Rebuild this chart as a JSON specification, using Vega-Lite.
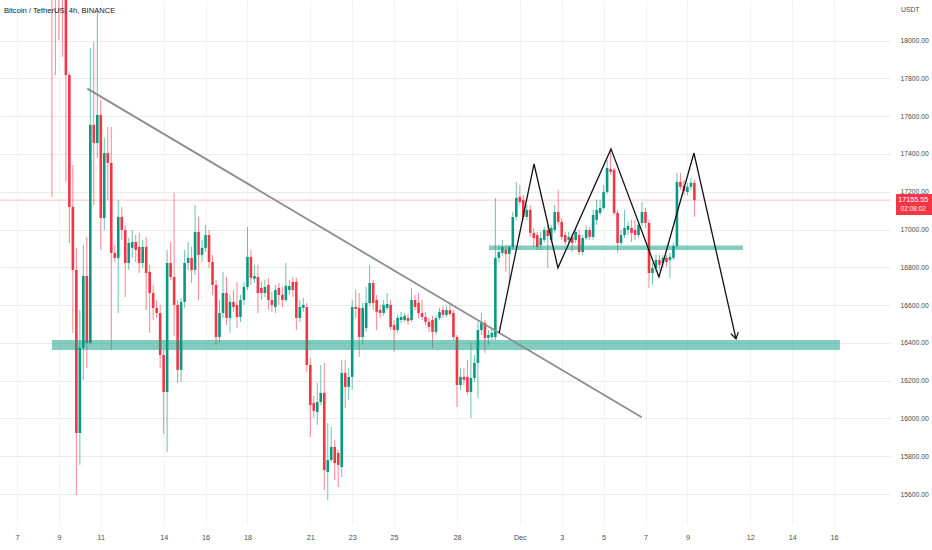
{
  "$schema": "https://vega.github.io/schema/vega-lite/v6.json",
  "width": 890,
  "height": 525,
  "autosize": "none",
  "padding": {"left": 0, "top": 0, "right": 42, "bottom": 25},
  "background": "white",
  "config": {
    "view": {"stroke": null},
    "font": "Liberation Sans Narrow, Liberation Sans, sans-serif"
  },
  "datasets": {
    "candles": [
      {"t": "2022-11-08T16:00", "o": 19500, "h": 19700, "l": 17173, "c": 18600},
      {"t": "2022-11-08T20:00", "o": 18600, "h": 19200, "l": 17818, "c": 18900},
      {"t": "2022-11-09T00:00", "o": 18900, "h": 19000, "l": 18004, "c": 18500},
      {"t": "2022-11-09T04:00", "o": 18500, "h": 18600, "l": 17914, "c": 18300},
      {"t": "2022-11-09T08:00", "o": 18300, "h": 18400, "l": 17252, "c": 17818},
      {"t": "2022-11-09T12:00", "o": 17818, "h": 17830, "l": 16928, "c": 17119},
      {"t": "2022-11-09T16:00", "o": 17120, "h": 17342, "l": 16453, "c": 16786},
      {"t": "2022-11-09T20:00", "o": 16786, "h": 16903, "l": 15595, "c": 15923},
      {"t": "2022-11-10T00:00", "o": 15923, "h": 16574, "l": 15754, "c": 16373},
      {"t": "2022-11-10T04:00", "o": 16373, "h": 16918, "l": 16204, "c": 16754},
      {"t": "2022-11-10T08:00", "o": 16754, "h": 16961, "l": 16267, "c": 16400},
      {"t": "2022-11-10T12:00", "o": 16400, "h": 17961, "l": 16389, "c": 17554},
      {"t": "2022-11-10T16:00", "o": 17554, "h": 17993, "l": 17130, "c": 17458},
      {"t": "2022-11-10T20:00", "o": 17458, "h": 18152, "l": 17379, "c": 17607},
      {"t": "2022-11-11T00:00", "o": 17607, "h": 17686, "l": 16892, "c": 17061},
      {"t": "2022-11-11T04:00", "o": 17061, "h": 17485, "l": 16998, "c": 17405},
      {"t": "2022-11-11T08:00", "o": 17405, "h": 17543, "l": 17157, "c": 17353},
      {"t": "2022-11-11T12:00", "o": 17353, "h": 17543, "l": 16363, "c": 16876},
      {"t": "2022-11-11T16:00", "o": 16876, "h": 16918, "l": 16828, "c": 16850},
      {"t": "2022-11-11T20:00", "o": 16850, "h": 17157, "l": 16558, "c": 17067},
      {"t": "2022-11-12T00:00", "o": 17067, "h": 17120, "l": 16945, "c": 16998},
      {"t": "2022-11-12T04:00", "o": 16998, "h": 17024, "l": 16643, "c": 16823},
      {"t": "2022-11-12T08:00", "o": 16823, "h": 16955, "l": 16786, "c": 16929},
      {"t": "2022-11-12T12:00", "o": 16903, "h": 16998, "l": 16850, "c": 16934},
      {"t": "2022-11-12T16:00", "o": 16934, "h": 16971, "l": 16828, "c": 16892},
      {"t": "2022-11-12T20:00", "o": 16908, "h": 16982, "l": 16770, "c": 16823},
      {"t": "2022-11-13T00:00", "o": 16823, "h": 16945, "l": 16797, "c": 16908},
      {"t": "2022-11-13T04:00", "o": 16908, "h": 16961, "l": 16574, "c": 16770},
      {"t": "2022-11-13T08:00", "o": 16776, "h": 16813, "l": 16453, "c": 16664},
      {"t": "2022-11-13T12:00", "o": 16664, "h": 16707, "l": 16521, "c": 16585},
      {"t": "2022-11-13T16:00", "o": 16585, "h": 16627, "l": 16532, "c": 16558},
      {"t": "2022-11-13T20:00", "o": 16558, "h": 16601, "l": 16267, "c": 16336},
      {"t": "2022-11-14T00:00", "o": 16336, "h": 16363, "l": 15918, "c": 16140},
      {"t": "2022-11-14T04:00", "o": 16140, "h": 16892, "l": 15823, "c": 16823},
      {"t": "2022-11-14T08:00", "o": 16823, "h": 16934, "l": 16733, "c": 16749},
      {"t": "2022-11-14T12:00", "o": 16749, "h": 17194, "l": 16437, "c": 16601},
      {"t": "2022-11-14T16:00", "o": 16601, "h": 16627, "l": 16188, "c": 16257},
      {"t": "2022-11-14T20:00", "o": 16257, "h": 16638, "l": 16193, "c": 16617},
      {"t": "2022-11-15T00:00", "o": 16617, "h": 16892, "l": 16585, "c": 16823},
      {"t": "2022-11-15T04:00", "o": 16823, "h": 16934, "l": 16786, "c": 16850},
      {"t": "2022-11-15T08:00", "o": 16850, "h": 16908, "l": 16717, "c": 16786},
      {"t": "2022-11-15T12:00", "o": 16786, "h": 17130, "l": 16760, "c": 16987},
      {"t": "2022-11-15T16:00", "o": 16987, "h": 17067, "l": 16627, "c": 16866},
      {"t": "2022-11-15T20:00", "o": 16866, "h": 16945, "l": 16828, "c": 16903},
      {"t": "2022-11-16T00:00", "o": 16903, "h": 17024, "l": 16881, "c": 16971},
      {"t": "2022-11-16T04:00", "o": 16971, "h": 16998, "l": 16797, "c": 16828},
      {"t": "2022-11-16T08:00", "o": 16828, "h": 16866, "l": 16654, "c": 16707},
      {"t": "2022-11-16T12:00", "o": 16707, "h": 16733, "l": 16389, "c": 16431},
      {"t": "2022-11-16T16:00", "o": 16431, "h": 16627, "l": 16400, "c": 16558},
      {"t": "2022-11-16T20:00", "o": 16558, "h": 16776, "l": 16532, "c": 16664},
      {"t": "2022-11-17T00:00", "o": 16664, "h": 16749, "l": 16495, "c": 16532},
      {"t": "2022-11-17T04:00", "o": 16532, "h": 16654, "l": 16453, "c": 16617},
      {"t": "2022-11-17T08:00", "o": 16617, "h": 16680, "l": 16564, "c": 16590},
      {"t": "2022-11-17T12:00", "o": 16601, "h": 16723, "l": 16479, "c": 16537},
      {"t": "2022-11-17T16:00", "o": 16537, "h": 16654, "l": 16511, "c": 16627},
      {"t": "2022-11-17T20:00", "o": 16627, "h": 16723, "l": 16601, "c": 16696},
      {"t": "2022-11-18T00:00", "o": 16696, "h": 17014, "l": 16680, "c": 16855},
      {"t": "2022-11-18T04:00", "o": 16855, "h": 16892, "l": 16707, "c": 16744},
      {"t": "2022-11-18T08:00", "o": 16739, "h": 16813, "l": 16717, "c": 16754},
      {"t": "2022-11-18T12:00", "o": 16749, "h": 16813, "l": 16558, "c": 16664},
      {"t": "2022-11-18T16:00", "o": 16691, "h": 16723, "l": 16627, "c": 16664},
      {"t": "2022-11-18T20:00", "o": 16664, "h": 16733, "l": 16643, "c": 16696},
      {"t": "2022-11-19T00:00", "o": 16707, "h": 16744, "l": 16574, "c": 16627},
      {"t": "2022-11-19T04:00", "o": 16627, "h": 16670, "l": 16564, "c": 16601},
      {"t": "2022-11-19T08:00", "o": 16590, "h": 16707, "l": 16558, "c": 16680},
      {"t": "2022-11-19T12:00", "o": 16691, "h": 16717, "l": 16601, "c": 16654},
      {"t": "2022-11-19T16:00", "o": 16654, "h": 16696, "l": 16590, "c": 16627},
      {"t": "2022-11-19T20:00", "o": 16627, "h": 16823, "l": 16617, "c": 16701},
      {"t": "2022-11-20T00:00", "o": 16680, "h": 16733, "l": 16654, "c": 16701},
      {"t": "2022-11-20T04:00", "o": 16723, "h": 16749, "l": 16643, "c": 16680},
      {"t": "2022-11-20T08:00", "o": 16723, "h": 16744, "l": 16468, "c": 16532},
      {"t": "2022-11-20T12:00", "o": 16532, "h": 16627, "l": 16511, "c": 16590},
      {"t": "2022-11-20T16:00", "o": 16585, "h": 16638, "l": 16564, "c": 16601},
      {"t": "2022-11-20T20:00", "o": 16590, "h": 16611, "l": 16246, "c": 16283},
      {"t": "2022-11-21T00:00", "o": 16283, "h": 16320, "l": 15902, "c": 16071},
      {"t": "2022-11-21T04:00", "o": 16082, "h": 16119, "l": 16003, "c": 16040},
      {"t": "2022-11-21T08:00", "o": 16034, "h": 16188, "l": 15966, "c": 16087},
      {"t": "2022-11-21T12:00", "o": 16087, "h": 16283, "l": 16071, "c": 16135},
      {"t": "2022-11-21T16:00", "o": 16135, "h": 16294, "l": 15621, "c": 15727},
      {"t": "2022-11-21T20:00", "o": 15717, "h": 15976, "l": 15568, "c": 15780},
      {"t": "2022-11-22T00:00", "o": 15780, "h": 15955, "l": 15770, "c": 15849},
      {"t": "2022-11-22T04:00", "o": 15849, "h": 15886, "l": 15674, "c": 15764},
      {"t": "2022-11-22T08:00", "o": 15817, "h": 15833, "l": 15637, "c": 15754},
      {"t": "2022-11-22T12:00", "o": 15743, "h": 16310, "l": 15690, "c": 16241},
      {"t": "2022-11-22T16:00", "o": 16241, "h": 16310, "l": 16055, "c": 16167},
      {"t": "2022-11-22T20:00", "o": 16167, "h": 16267, "l": 16098, "c": 16220},
      {"t": "2022-11-23T00:00", "o": 16220, "h": 16627, "l": 16151, "c": 16590},
      {"t": "2022-11-23T04:00", "o": 16590, "h": 16680, "l": 16532, "c": 16580},
      {"t": "2022-11-23T08:00", "o": 16585, "h": 16664, "l": 16326, "c": 16431},
      {"t": "2022-11-23T12:00", "o": 16431, "h": 16611, "l": 16389, "c": 16585},
      {"t": "2022-11-23T16:00", "o": 16479, "h": 16696, "l": 16458, "c": 16611},
      {"t": "2022-11-23T20:00", "o": 16611, "h": 16813, "l": 16596, "c": 16717},
      {"t": "2022-11-24T00:00", "o": 16717, "h": 16733, "l": 16574, "c": 16611},
      {"t": "2022-11-24T04:00", "o": 16627, "h": 16654, "l": 16468, "c": 16564},
      {"t": "2022-11-24T08:00", "o": 16574, "h": 16601, "l": 16532, "c": 16558},
      {"t": "2022-11-24T12:00", "o": 16558, "h": 16627, "l": 16543, "c": 16601},
      {"t": "2022-11-24T16:00", "o": 16585, "h": 16664, "l": 16574, "c": 16606},
      {"t": "2022-11-24T20:00", "o": 16601, "h": 16627, "l": 16468, "c": 16484},
      {"t": "2022-11-25T00:00", "o": 16495, "h": 16521, "l": 16352, "c": 16468},
      {"t": "2022-11-25T04:00", "o": 16468, "h": 16548, "l": 16453, "c": 16532},
      {"t": "2022-11-25T08:00", "o": 16521, "h": 16564, "l": 16506, "c": 16537},
      {"t": "2022-11-25T12:00", "o": 16521, "h": 16558, "l": 16511, "c": 16543},
      {"t": "2022-11-25T16:00", "o": 16532, "h": 16553, "l": 16495, "c": 16516},
      {"t": "2022-11-25T20:00", "o": 16521, "h": 16691, "l": 16511, "c": 16627},
      {"t": "2022-11-26T00:00", "o": 16627, "h": 16654, "l": 16574, "c": 16590},
      {"t": "2022-11-26T04:00", "o": 16611, "h": 16664, "l": 16532, "c": 16558},
      {"t": "2022-11-26T08:00", "o": 16558, "h": 16627, "l": 16521, "c": 16537},
      {"t": "2022-11-26T12:00", "o": 16537, "h": 16564, "l": 16495, "c": 16511},
      {"t": "2022-11-26T16:00", "o": 16511, "h": 16532, "l": 16458, "c": 16484},
      {"t": "2022-11-26T20:00", "o": 16521, "h": 16543, "l": 16373, "c": 16458},
      {"t": "2022-11-27T00:00", "o": 16458, "h": 16548, "l": 16442, "c": 16532},
      {"t": "2022-11-27T04:00", "o": 16532, "h": 16585, "l": 16521, "c": 16564},
      {"t": "2022-11-27T08:00", "o": 16574, "h": 16596, "l": 16532, "c": 16548},
      {"t": "2022-11-27T12:00", "o": 16548, "h": 16596, "l": 16537, "c": 16574},
      {"t": "2022-11-27T16:00", "o": 16574, "h": 16601, "l": 16543, "c": 16553},
      {"t": "2022-11-27T20:00", "o": 16558, "h": 16574, "l": 16415, "c": 16431},
      {"t": "2022-11-28T00:00", "o": 16431, "h": 16442, "l": 16061, "c": 16177},
      {"t": "2022-11-28T04:00", "o": 16177, "h": 16267, "l": 16151, "c": 16220},
      {"t": "2022-11-28T08:00", "o": 16220, "h": 16267, "l": 16177, "c": 16204},
      {"t": "2022-11-28T12:00", "o": 16220, "h": 16310, "l": 16124, "c": 16140},
      {"t": "2022-11-28T16:00", "o": 16140, "h": 16400, "l": 16003, "c": 16214},
      {"t": "2022-11-28T20:00", "o": 16214, "h": 16336, "l": 16193, "c": 16294},
      {"t": "2022-11-29T00:00", "o": 16294, "h": 16511, "l": 16108, "c": 16468},
      {"t": "2022-11-29T04:00", "o": 16468, "h": 16558, "l": 16442, "c": 16506},
      {"t": "2022-11-29T08:00", "o": 16506, "h": 16521, "l": 16347, "c": 16426},
      {"t": "2022-11-29T12:00", "o": 16426, "h": 16468, "l": 16389, "c": 16442},
      {"t": "2022-11-29T16:00", "o": 16431, "h": 16479, "l": 16415, "c": 16453},
      {"t": "2022-11-29T20:00", "o": 16431, "h": 17167, "l": 16415, "c": 16850},
      {"t": "2022-11-30T00:00", "o": 16850, "h": 16918, "l": 16828, "c": 16881},
      {"t": "2022-11-30T04:00", "o": 16876, "h": 16945, "l": 16860, "c": 16908},
      {"t": "2022-11-30T08:00", "o": 16892, "h": 16918, "l": 16776, "c": 16871},
      {"t": "2022-11-30T12:00", "o": 16871, "h": 16918, "l": 16717, "c": 16908},
      {"t": "2022-11-30T16:00", "o": 16908, "h": 17093, "l": 16892, "c": 17067},
      {"t": "2022-11-30T20:00", "o": 17067, "h": 17252, "l": 17051, "c": 17167},
      {"t": "2022-12-01T00:00", "o": 17173, "h": 17236, "l": 17130, "c": 17146},
      {"t": "2022-12-01T04:00", "o": 17157, "h": 17183, "l": 17051, "c": 17067},
      {"t": "2022-12-01T08:00", "o": 17067, "h": 17130, "l": 17051, "c": 17104},
      {"t": "2022-12-01T12:00", "o": 17104, "h": 17130, "l": 16961, "c": 16982},
      {"t": "2022-12-01T16:00", "o": 16982, "h": 17008, "l": 16908, "c": 16955},
      {"t": "2022-12-01T20:00", "o": 16971, "h": 16987, "l": 16892, "c": 16908},
      {"t": "2022-12-02T00:00", "o": 16918, "h": 16987, "l": 16892, "c": 16955},
      {"t": "2022-12-02T04:00", "o": 16945, "h": 17014, "l": 16929, "c": 16998},
      {"t": "2022-12-02T08:00", "o": 16998, "h": 17024, "l": 16797, "c": 16966},
      {"t": "2022-12-02T12:00", "o": 16945, "h": 17024, "l": 16929, "c": 17008},
      {"t": "2022-12-02T16:00", "o": 16998, "h": 17130, "l": 16982, "c": 17093},
      {"t": "2022-12-02T20:00", "o": 17093, "h": 17210, "l": 17024, "c": 17040},
      {"t": "2022-12-03T00:00", "o": 17040, "h": 17061, "l": 16945, "c": 16961},
      {"t": "2022-12-03T04:00", "o": 16971, "h": 16987, "l": 16918, "c": 16934},
      {"t": "2022-12-03T08:00", "o": 16945, "h": 16987, "l": 16929, "c": 16961},
      {"t": "2022-12-03T12:00", "o": 16961, "h": 16982, "l": 16881, "c": 16929},
      {"t": "2022-12-03T16:00", "o": 16945, "h": 17008, "l": 16929, "c": 16987},
      {"t": "2022-12-03T20:00", "o": 16971, "h": 16998, "l": 16866, "c": 16881},
      {"t": "2022-12-04T00:00", "o": 16881, "h": 16971, "l": 16866, "c": 16955},
      {"t": "2022-12-04T04:00", "o": 16955, "h": 17024, "l": 16945, "c": 16998},
      {"t": "2022-12-04T08:00", "o": 16998, "h": 17014, "l": 16945, "c": 16961},
      {"t": "2022-12-04T12:00", "o": 16961, "h": 17104, "l": 16945, "c": 17077},
      {"t": "2022-12-04T16:00", "o": 17051, "h": 17157, "l": 17024, "c": 17104},
      {"t": "2022-12-04T20:00", "o": 17088, "h": 17157, "l": 17077, "c": 17114},
      {"t": "2022-12-05T00:00", "o": 17114, "h": 17236, "l": 17104, "c": 17199},
      {"t": "2022-12-05T04:00", "o": 17199, "h": 17368, "l": 17188, "c": 17326},
      {"t": "2022-12-05T08:00", "o": 17321, "h": 17427, "l": 17289, "c": 17305},
      {"t": "2022-12-05T12:00", "o": 17316, "h": 17326, "l": 17077, "c": 17088},
      {"t": "2022-12-05T16:00", "o": 17088, "h": 17104, "l": 16876, "c": 16929},
      {"t": "2022-12-05T20:00", "o": 16929, "h": 16998, "l": 16918, "c": 16971},
      {"t": "2022-12-06T00:00", "o": 16971, "h": 17104, "l": 16955, "c": 17008},
      {"t": "2022-12-06T04:00", "o": 16998, "h": 17040, "l": 16971, "c": 17019},
      {"t": "2022-12-06T08:00", "o": 17008, "h": 17051, "l": 16934, "c": 16982},
      {"t": "2022-12-06T12:00", "o": 16998, "h": 17051, "l": 16945, "c": 16971},
      {"t": "2022-12-06T16:00", "o": 16971, "h": 17040, "l": 16955, "c": 17024},
      {"t": "2022-12-06T20:00", "o": 17035, "h": 17146, "l": 17019, "c": 17093},
      {"t": "2022-12-07T00:00", "o": 17093, "h": 17114, "l": 17008, "c": 17035},
      {"t": "2022-12-07T04:00", "o": 17035, "h": 17051, "l": 16691, "c": 16770},
      {"t": "2022-12-07T08:00", "o": 16770, "h": 16823, "l": 16707, "c": 16797},
      {"t": "2022-12-07T12:00", "o": 16797, "h": 16866, "l": 16776, "c": 16839},
      {"t": "2022-12-07T16:00", "o": 16839, "h": 16866, "l": 16786, "c": 16813},
      {"t": "2022-12-07T20:00", "o": 16823, "h": 16866, "l": 16797, "c": 16850},
      {"t": "2022-12-08T00:00", "o": 16850, "h": 16866, "l": 16802, "c": 16828},
      {"t": "2022-12-08T04:00", "o": 16839, "h": 16876, "l": 16744, "c": 16855},
      {"t": "2022-12-08T08:00", "o": 16850, "h": 16929, "l": 16839, "c": 16913},
      {"t": "2022-12-08T12:00", "o": 16913, "h": 17300, "l": 16903, "c": 17252},
      {"t": "2022-12-08T16:00", "o": 17252, "h": 17300, "l": 17210, "c": 17226},
      {"t": "2022-12-08T20:00", "o": 17231, "h": 17263, "l": 17183, "c": 17204},
      {"t": "2022-12-09T00:00", "o": 17199, "h": 17247, "l": 17183, "c": 17226},
      {"t": "2022-12-09T04:00", "o": 17226, "h": 17273, "l": 17210, "c": 17247},
      {"t": "2022-12-09T08:00", "o": 17247, "h": 17263, "l": 17067, "c": 17155.55}
    ],
    "bands": [
      {"t1": "2022-11-08T16:06", "t2": "2022-12-16T06:45", "p1": 16415, "p2": 16362},
      {"t1": "2022-11-29T12:45", "t2": "2022-12-11T15:40", "p1": 16915, "p2": 16892}
    ],
    "trend": [
      {"t": "2022-11-10T08:32", "p": 17746},
      {"t": "2022-12-06T19:40", "p": 16006}
    ],
    "zigzag": [
      {"t": "2022-11-30T00:14", "p": 16452},
      {"t": "2022-12-01T16:18", "p": 17347},
      {"t": "2022-12-02T19:42", "p": 16797},
      {"t": "2022-12-05T08:28", "p": 17427},
      {"t": "2022-12-07T15:25", "p": 16749},
      {"t": "2022-12-09T07:30", "p": 17405},
      {"t": "2022-12-11T07:40", "p": 16421}
    ]
  },
  "layer": [
    {
      "data": {"values": [{}]},
      "mark": {"type": "rule", "color": "#f23645", "opacity": 0.3, "strokeWidth": 1},
      "encoding": {
        "y": {"datum": 17155.55, "type": "quantitative", "scale": {"domain": [15436, 18215], "nice": false, "zero": false}, "title": null}
      }
    },
    {
      "data": {"name": "candles"},
      "mark": {"type": "rule", "strokeWidth": 1, "opacity": 0.6, "clip": true},
      "encoding": {
        "x": {
          "field": "t", "type": "temporal", "title": null,
          "scale": {"domain": [{"year": 2022, "month": 11, "date": 6, "hours": 4, "minutes": 32}, {"year": 2022, "month": 12, "date": 18, "hours": 16, "minutes": 5}], "padding": 0},
          "axis": {
            "values": [
              {"year": 2022, "month": 11, "date": 7}, {"year": 2022, "month": 11, "date": 9},
              {"year": 2022, "month": 11, "date": 11}, {"year": 2022, "month": 11, "date": 14},
              {"year": 2022, "month": 11, "date": 16}, {"year": 2022, "month": 11, "date": 18},
              {"year": 2022, "month": 11, "date": 21}, {"year": 2022, "month": 11, "date": 23},
              {"year": 2022, "month": 11, "date": 25}, {"year": 2022, "month": 11, "date": 28},
              {"year": 2022, "month": 12, "date": 1}, {"year": 2022, "month": 12, "date": 3},
              {"year": 2022, "month": 12, "date": 5}, {"year": 2022, "month": 12, "date": 7},
              {"year": 2022, "month": 12, "date": 9}, {"year": 2022, "month": 12, "date": 12},
              {"year": 2022, "month": 12, "date": 14}, {"year": 2022, "month": 12, "date": 16}
            ],
            "labelExpr": "date(datum.value) == 1 ? 'Dec' : '' + date(datum.value)",
            "grid": true, "gridColor": "#f3f3f3", "ticks": false, "domain": false,
            "labelFontSize": 7.2, "labelColor": "#4a4a4a", "labelPadding": 8,
            "labelOverlap": false, "labelFlush": false
          }
        },
        "y": {
          "field": "l", "type": "quantitative", "title": null,
          "scale": {"domain": [15436, 18215], "nice": false, "zero": false},
          "axis": {
            "orient": "right",
            "values": [15600, 15800, 16000, 16200, 16400, 16600, 16800, 17000, 17200, 17400, 17600, 17800, 18000],
            "format": ".2f", "grid": true, "gridColor": "#ebebeb", "ticks": false, "domain": false,
            "labelAlign": "left", "labelBaseline": "middle", "labelPadding": 10,
            "labelFontSize": 6.8, "labelColor": "#4a4a4a"
          }
        },
        "y2": {"field": "h"},
        "color": {"condition": {"test": "datum.c >= datum.o", "value": "#089981"}, "value": "#f23645"}
      }
    },
    {
      "data": {"name": "candles"},
      "mark": {"type": "bar", "size": 2.6, "clip": true},
      "encoding": {
        "x": {"field": "t", "type": "temporal", "title": null, "scale": {"domain": [{"year": 2022, "month": 11, "date": 6, "hours": 4, "minutes": 32}, {"year": 2022, "month": 12, "date": 18, "hours": 16, "minutes": 5}], "padding": 0}},
        "y": {"field": "o", "type": "quantitative", "title": null, "scale": {"domain": [15436, 18215], "nice": false, "zero": false}},
        "y2": {"field": "c"},
        "color": {"condition": {"test": "datum.c >= datum.o", "value": "#089981"}, "value": "#f23645"}
      }
    },
    {
      "data": {"name": "bands"},
      "mark": {"type": "rect", "color": "#089981", "opacity": 0.5},
      "encoding": {
        "x": {"field": "t1", "type": "temporal", "title": null, "scale": {"domain": [{"year": 2022, "month": 11, "date": 6, "hours": 4, "minutes": 32}, {"year": 2022, "month": 12, "date": 18, "hours": 16, "minutes": 5}], "padding": 0}},
        "x2": {"field": "t2"},
        "y": {"field": "p1", "type": "quantitative", "title": null, "scale": {"domain": [15436, 18215], "nice": false, "zero": false}},
        "y2": {"field": "p2"}
      }
    },
    {
      "data": {"name": "trend"},
      "mark": {"type": "line", "color": "#8c8c8c", "strokeWidth": 1.8},
      "encoding": {
        "x": {"field": "t", "type": "temporal", "title": null, "scale": {"domain": [{"year": 2022, "month": 11, "date": 6, "hours": 4, "minutes": 32}, {"year": 2022, "month": 12, "date": 18, "hours": 16, "minutes": 5}], "padding": 0}},
        "y": {"field": "p", "type": "quantitative", "title": null, "scale": {"domain": [15436, 18215], "nice": false, "zero": false}}
      }
    },
    {
      "data": {"name": "zigzag"},
      "mark": {"type": "line", "color": "#111111", "strokeWidth": 1.3},
      "encoding": {
        "x": {"field": "t", "type": "temporal", "title": null, "scale": {"domain": [{"year": 2022, "month": 11, "date": 6, "hours": 4, "minutes": 32}, {"year": 2022, "month": 12, "date": 18, "hours": 16, "minutes": 5}], "padding": 0}},
        "y": {"field": "p", "type": "quantitative", "title": null, "scale": {"domain": [15436, 18215], "nice": false, "zero": false}}
      }
    },
    {
      "data": {"values": [{}]},
      "mark": {"type": "point", "shape": "M-0.62,-1L0,0L0.62,-1", "filled": false, "stroke": "#111111", "strokeWidth": 1.3, "size": 150, "angle": -12.8, "opacity": 1},
      "encoding": {
        "x": {"datum": {"year": 2022, "month": 12, "date": 11, "hours": 7, "minutes": 40}, "type": "temporal", "title": null, "scale": {"domain": [{"year": 2022, "month": 11, "date": 6, "hours": 4, "minutes": 32}, {"year": 2022, "month": 12, "date": 18, "hours": 16, "minutes": 5}], "padding": 0}},
        "y": {"datum": 16421, "type": "quantitative", "title": null, "scale": {"domain": [15436, 18215], "nice": false, "zero": false}}
      }
    },
    {
      "data": {"values": [{}]},
      "mark": {"type": "text", "align": "left", "baseline": "middle", "fontSize": 7.6, "color": "#131722"},
      "encoding": {
        "x": {"datum": {"year": 2022, "month": 11, "date": 6, "hours": 9, "minutes": 7}, "type": "temporal", "title": null, "scale": {"domain": [{"year": 2022, "month": 11, "date": 6, "hours": 4, "minutes": 32}, {"year": 2022, "month": 12, "date": 18, "hours": 16, "minutes": 5}], "padding": 0}},
        "y": {"datum": 18157, "type": "quantitative", "title": null, "scale": {"domain": [15436, 18215], "nice": false, "zero": false}},
        "text": {"value": "Bitcoin / TetherUS, 4h, BINANCE"}
      }
    },
    {
      "data": {"values": [{}]},
      "mark": {"type": "text", "align": "left", "baseline": "middle", "fontSize": 6.8, "color": "#4a4a4a"},
      "encoding": {
        "x": {"datum": {"year": 2022, "month": 12, "date": 19, "hours": 4, "minutes": 42}, "type": "temporal", "title": null, "scale": {"domain": [{"year": 2022, "month": 11, "date": 6, "hours": 4, "minutes": 32}, {"year": 2022, "month": 12, "date": 18, "hours": 16, "minutes": 5}], "padding": 0}},
        "y": {"datum": 18163, "type": "quantitative", "title": null, "scale": {"domain": [15436, 18215], "nice": false, "zero": false}},
        "text": {"value": "USDT"}
      }
    },
    {
      "data": {"values": [{}]},
      "mark": {"type": "rect", "color": "#f23645"},
      "encoding": {
        "x": {"datum": {"year": 2022, "month": 12, "date": 18, "hours": 23, "minutes": 0}, "type": "temporal", "title": null, "scale": {"domain": [{"year": 2022, "month": 11, "date": 6, "hours": 4, "minutes": 32}, {"year": 2022, "month": 12, "date": 18, "hours": 16, "minutes": 5}], "padding": 0}},
        "x2": {"datum": {"year": 2022, "month": 12, "date": 20, "hours": 20, "minutes": 0}},
        "y": {"datum": 17188, "type": "quantitative", "title": null, "scale": {"domain": [15436, 18215], "nice": false, "zero": false}},
        "y2": {"datum": 17077}
      }
    },
    {
      "data": {"values": [{}]},
      "mark": {"type": "text", "align": "center", "baseline": "middle", "fontSize": 7.2, "color": "white"},
      "encoding": {
        "x": {"datum": {"year": 2022, "month": 12, "date": 19, "hours": 18, "minutes": 45}, "type": "temporal", "title": null, "scale": {"domain": [{"year": 2022, "month": 11, "date": 6, "hours": 4, "minutes": 32}, {"year": 2022, "month": 12, "date": 18, "hours": 16, "minutes": 5}], "padding": 0}},
        "y": {"datum": 17157, "type": "quantitative", "title": null, "scale": {"domain": [15436, 18215], "nice": false, "zero": false}},
        "text": {"value": "17155.55"}
      }
    },
    {
      "data": {"values": [{}]},
      "mark": {"type": "text", "align": "center", "baseline": "middle", "fontSize": 6.5, "color": "white", "opacity": 0.9},
      "encoding": {
        "x": {"datum": {"year": 2022, "month": 12, "date": 19, "hours": 18, "minutes": 45}, "type": "temporal", "title": null, "scale": {"domain": [{"year": 2022, "month": 11, "date": 6, "hours": 4, "minutes": 32}, {"year": 2022, "month": 12, "date": 18, "hours": 16, "minutes": 5}], "padding": 0}},
        "y": {"datum": 17107, "type": "quantitative", "title": null, "scale": {"domain": [15436, 18215], "nice": false, "zero": false}},
        "text": {"value": "02:08:02"}
      }
    }
  ]
}
